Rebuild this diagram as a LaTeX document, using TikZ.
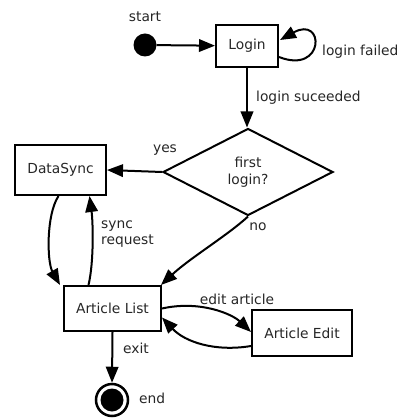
\documentclass[tikz,border=0pt]{standalone}
\usepackage{fontspec}
\setmainfont{DejaVu Sans}
\usetikzlibrary{arrows.meta,shapes.geometric}
\begin{document}
\begin{tikzpicture}[x=1pt,y=-1pt,
  every node/.style={font=\fontsize{13.8}{16.5}\selectfont, text=black!85},
  state/.style={draw, line width=2pt, rectangle, inner sep=0pt},
  arr/.style={line width=2pt, -{Triangle[length=16pt,width=12.5pt]}},
  lbl/.style={inner sep=0pt}]
\useasboundingbox (0,0) rectangle (400,419);

% states
\node[circle, fill=black, minimum size=23pt, inner sep=0pt] (s) at (145,45) {};
\node[lbl] at (145,17) {start};
\node[state, minimum width=62pt, minimum height=42pt] (login) at (247,46) {Login};
\node[draw, line width=2pt, diamond, aspect=2, minimum width=170pt, minimum height=87pt,
      inner sep=0pt, align=center] (d) at (248,172) {first\\login?};
\node[state, minimum width=91pt, minimum height=50pt] (ds) at (60.5,170) {DataSync};
\node[state, minimum width=97pt, minimum height=45pt] (al) at (112.5,308.5) {Article List};
\node[state, minimum width=100pt, minimum height=46pt] (ae) at (302,333) {Article Edit};
\node[circle, draw, line width=2.5pt, minimum size=32pt, inner sep=0pt] (e) at (112,400) {};
\fill (e.center) circle (11.5);

% transitions
\draw[arr] (s) -- (login);
\draw[arr] ([shift={(0,11)}]login.east) .. controls (325,75) and (325,15) .. ([shift={(1,-6)}]login.east);
\node[lbl, anchor=west] at (322,52) {login failed};

\draw[arr] (login.south) -- (login.south |- d.north);
\node[lbl, anchor=west] at (256,98) {login suceeded};

\draw[arr] (d.west) -- (ds.east);
\node[lbl] at (165,150) {yes};

\draw[arr] (d.south) .. controls (228,235) and (190,258) .. ([shift={(-1,0)}]al.north east);
\node[lbl] at (258,227) {no};

\draw[arr] ([shift={(-2,0)}]ds.south) .. controls (46,215) and (47,262) .. ([shift={(-3,0)}]al.north west);
\draw[arr] ([shift={(-24,0)}]al.north) .. controls (94,262) and (93,222) .. ([shift={(29,0)}]ds.south);
\node[lbl, anchor=west, align=left] at (101,234) {sync\\request};

\draw[arr] (al.east) .. controls (200,300) and (232,314) .. ([shift={(0,-1)}]ae.west);
\node[lbl] at (237,299) {edit article};
\draw[arr] ([shift={(0,13)}]ae.west) .. controls (215,352) and (185,342) .. ([shift={(0,9)}]al.east);

\draw[arr] (al.south) -- (e.north);
\node[lbl, anchor=west] at (123,348) {exit};
\node[lbl, anchor=west] at (139,398) {end};
\end{tikzpicture}
\end{document}
